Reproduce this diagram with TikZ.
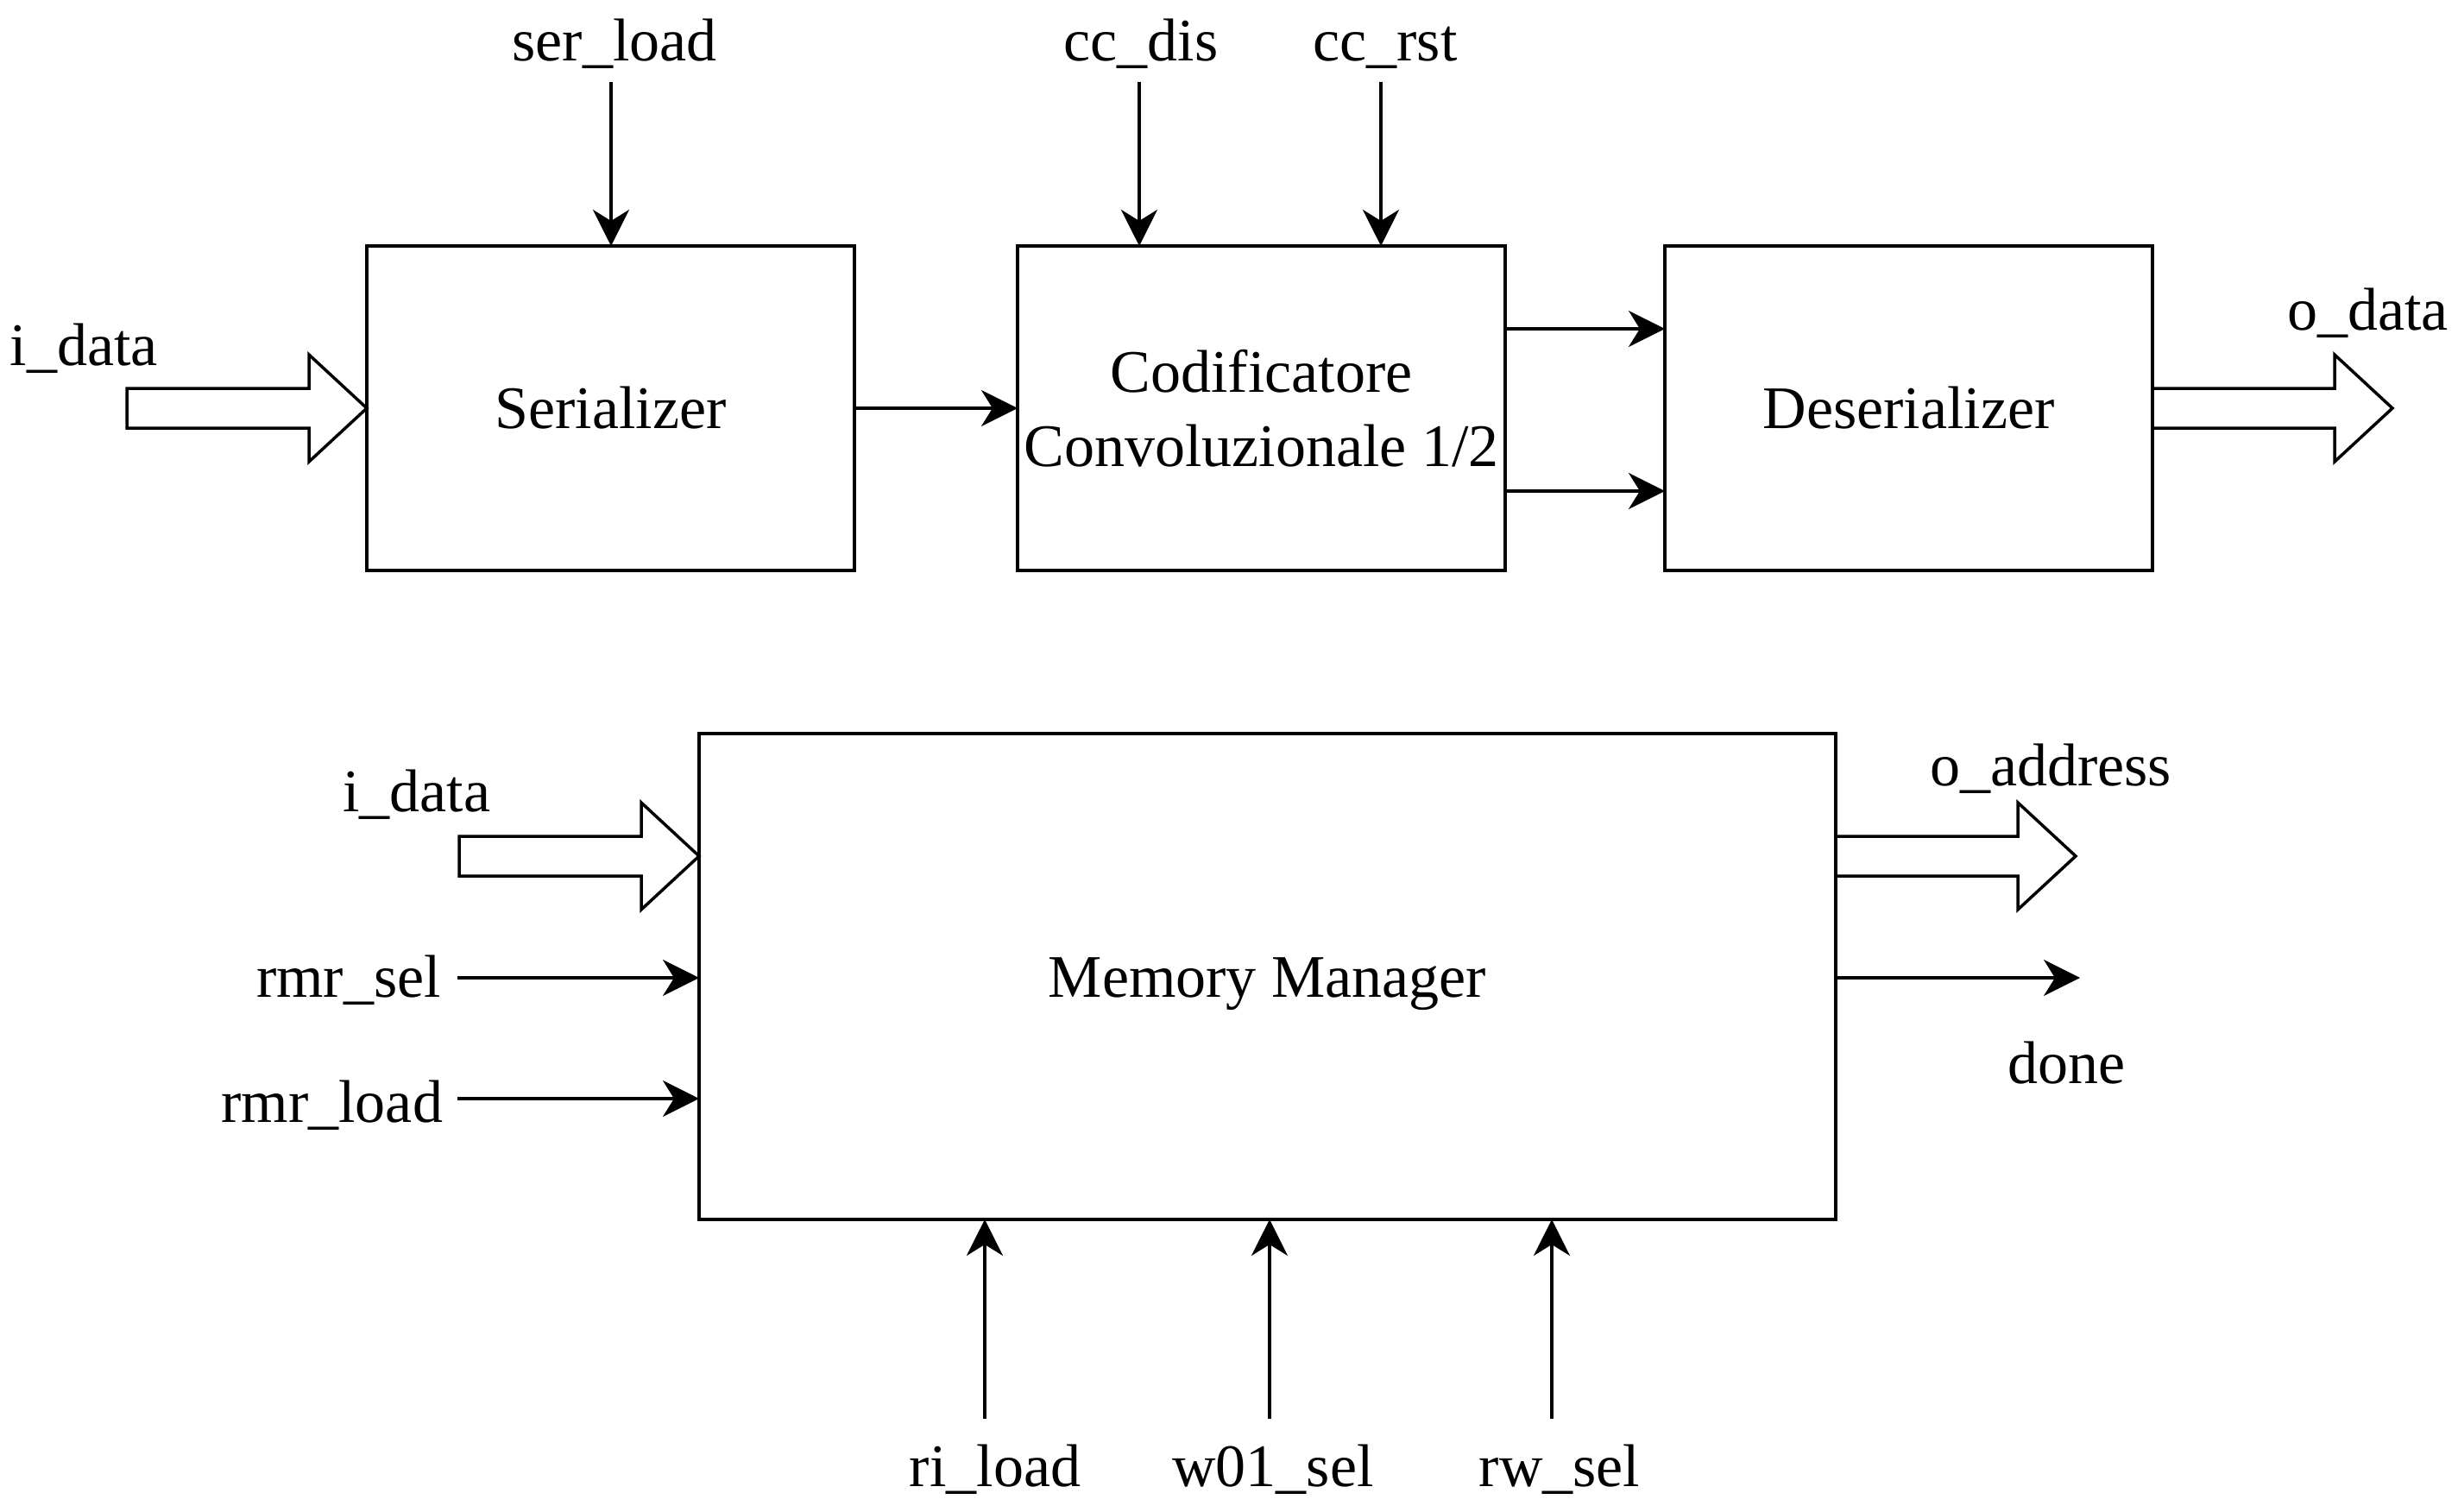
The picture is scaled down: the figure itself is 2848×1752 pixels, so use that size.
\documentclass[tikz,border=0pt]{standalone}
\usepackage{fontspec}
\setmainfont{Liberation Serif}
\usetikzlibrary{arrows.meta,calc}
\begin{document}
\begin{tikzpicture}[x=1pt,y=-1pt,
  every node/.style={font=\fontsize{70}{86}\selectfont, inner sep=0pt, outer sep=0pt},
  box/.style={draw, line width=4pt, minimum width=565pt, minimum height=376pt, align=center},
  onel/.style={text height=47pt, text depth=0pt},
  arr/.style={line width=3.8pt, -{Stealth[length=42pt, width=42pt, inset=13pt]}},
  pics/barrow/.style={code={
    \draw[line width=3.5pt, line join=miter, fill=white]
      (0,-23) -- (211,-23) -- (211,-62) -- (278,0) -- (211,62) -- (211,23) -- (0,23) -- cycle;}}
]
\useasboundingbox (0,0) rectangle (2848,1752);

% top row boxes
\node[box, onel] (ser) at (707.5,473) {Serializer};
\node[box] (cod) at (1461.5,473) {Codificatore\\Convoluzionale 1/2};
\node[box, onel] (des) at (2211.5,473) {Deserializer};

% memory manager
\node[box, onel, minimum width=1317pt, minimum height=563pt] (mm) at (1468.5,1131.5) {Memory Manager};

% top labels
\node[anchor=base] (lsl) at (712,71) {ser\_load};
\node[anchor=base] (lcd) at (1322,71) {cc\_dis};
\node[anchor=base] (lcr) at (1605,71) {cc\_rst};
\node[anchor=base west] (lid) at (12,423) {i\_data};
\node[anchor=base west] (lod) at (2650,383) {o\_data};

% top connectors
\coordinate (sl) at (708,95);
\coordinate (cd) at (1320,95);
\coordinate (cr) at (1600,95);
\draw[arr] (sl) -- (sl |- ser.north);
\draw[arr] (cd) -- (cd |- cod.north);
\draw[arr] (cr) -- (cr |- cod.north);
\draw[arr] (ser.east) -- (cod.west);
\draw[arr] ([yshift=92pt]cod.east) -- ([yshift=92pt]des.west);
\draw[arr] ([yshift=-96pt]cod.east) -- ([yshift=-96pt]des.west);
\pic at ($(ser.west)+(-278,0)$) {barrow};
\pic at (des.east) {barrow};

% lower labels
\node[anchor=base west] (lid2) at (397,940) {i\_data};
\node[anchor=base east] (lrs) at (511,1155) {rmr\_sel};
\node[anchor=base east] (lrl) at (513,1300) {rmr\_load};
\node[anchor=base west] (loa) at (2236,910) {o\_address};
\node[anchor=base west] (ldn) at (2326,1255) {done};
\node[anchor=base] (lri) at (1153,1722) {ri\_load};
\node[anchor=base] (lw0) at (1475,1722) {w01\_sel};
\node[anchor=base] (lrw) at (1807,1722) {rw\_sel};

% lower connectors
\pic at ($(mm.west)+(-278,-139.5)$) {barrow};
\pic at ($(mm.east)+(0,-139.5)$) {barrow};
\coordinate (rs) at (530,1133);
\coordinate (rl) at (530,1273);
\draw[arr] (rs) -- (rs -| mm.west);
\draw[arr] (rl) -- (rl -| mm.west);
\coordinate (dn) at (2410,1133);
\draw[arr] (dn -| mm.east) -- (dn);
\coordinate (b1) at (1141,1644);
\coordinate (b2) at (1471,1644);
\coordinate (b3) at (1798,1644);
\draw[arr] (b1) -- (b1 |- mm.south);
\draw[arr] (b2) -- (b2 |- mm.south);
\draw[arr] (b3) -- (b3 |- mm.south);
\end{tikzpicture}
\end{document}
